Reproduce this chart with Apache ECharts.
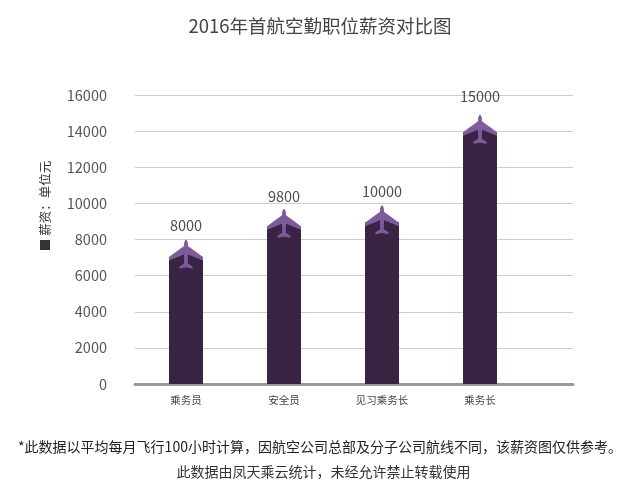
<!DOCTYPE html>
<html><head><meta charset="utf-8">
<style>html,body{margin:0;padding:0;background:#fff}#c{width:640px;height:500px}</style>
<script src="https://cdn.jsdelivr.net/npm/echarts@6/dist/echarts.min.js"></script>
</head><body><div id="c"></div>
<script>
const categories = ['乘务员','安全员','见习乘务长','乘务长'];
const bodyTops = [6950,8700,8950,13950];
const noseValues = [8000,9700,9900,14900];
const labelTexts = ['8000','9800','10000','15000'];
const labelAnchors = [8750,10400,10650,15900];
const yMax = 16000, yStep = 2000;
const F = '"Noto Sans CJK SC","Noto Sans",sans-serif';
const roofPath = 'path://M0 13 L17 0 L34 13 L34 16 L0 16 Z';
const planePath = 'path://M15.2 3 Q17 -3 18.8 3 L19 6.5 L34 17.5 L34 21 L19 15 L18.8 24 L23.5 27 L23.5 29 L17 27.8 L10.5 29 L10.5 27 L15.2 24 L15 15 L0 21 L0 17.5 L15 6.5 Z';
const GL=135, GR=67, GT=95, GB=116;
const chart = echarts.init(document.getElementById('c'),null,{renderer:'canvas'});
chart.setOption({
  backgroundColor:'#fff',
  animation:false,
  title:{text:'2016年首航空勤职位薪资对比图',left:'center',top:12,textStyle:{fontFamily:F,fontSize:18.5,fontWeight:'normal',color:'#444'}},
  grid:[
    {left:GL,right:GR,top:GT,bottom:GB},
    {left:GL+2,width:392,top:GT,bottom:GB}
  ],
  xAxis:[
    {gridIndex:0,type:'value',min:0,max:1,axisLine:{show:true,lineStyle:{color:'#999',width:3}},axisTick:{show:false},axisLabel:{show:false},splitLine:{show:false}},
    {gridIndex:1,type:'category',data:categories,axisLine:{show:false},axisTick:{show:false},axisLabel:{fontFamily:F,fontSize:10.5,color:'#444',margin:11}}
  ],
  yAxis:[
    {gridIndex:0,type:'value',min:0,max:yMax,interval:yStep,
     axisLine:{show:false},axisTick:{show:false},
     axisLabel:{fontFamily:F,fontSize:14.5,color:'#555',margin:28,formatter:v=>String(v)},
     splitLine:{lineStyle:{color:'#ccc',width:1}}},
    {gridIndex:1,type:'value',min:0,max:yMax,interval:yStep,show:false}
  ],
  series:[
    {type:'bar',xAxisIndex:1,yAxisIndex:1,data:bodyTops,barWidth:34,itemStyle:{color:'#3a2444'},z:3},
    {type:'scatter',xAxisIndex:1,yAxisIndex:1,data:noseValues,symbol:roofPath,symbolSize:[34,16],symbolOffset:[0,14],itemStyle:{color:'#3a2444',opacity:1},z:4},
    {type:'scatter',xAxisIndex:1,yAxisIndex:1,data:noseValues,symbol:planePath,symbolSize:[34,29],symbolOffset:[0,14.5],itemStyle:{color:'#7d5c9c',opacity:1},z:5},
    {type:'scatter',xAxisIndex:1,yAxisIndex:1,data:labelAnchors.map((v,i)=>({value:v,label:{formatter:labelTexts[i]}})),symbolSize:0,
     label:{show:true,position:'inside',fontFamily:F,fontSize:14.5,color:'#222'},z:6}
  ],
  graphic:[
    {type:'text',x:45,y:206,rotation:Math.PI/2,style:{text:'■ 薪资：单位元',font:'12.5px '+F,fill:'#333',align:'center',verticalAlign:'middle'}},
    {type:'text',x:320,y:447,style:{text:'*此数据以平均每月飞行100小时计算，因航空公司总部及分子公司航线不同，该薪资图仅供参考。',font:'14px '+F,fill:'#222',align:'center',verticalAlign:'middle'}},
    {type:'text',x:323.5,y:472,style:{text:'此数据由凤天乘云统计，未经允许禁止转载使用',font:'14px '+F,fill:'#333',align:'center',verticalAlign:'middle'}}
  ]
});
</script></body></html>
